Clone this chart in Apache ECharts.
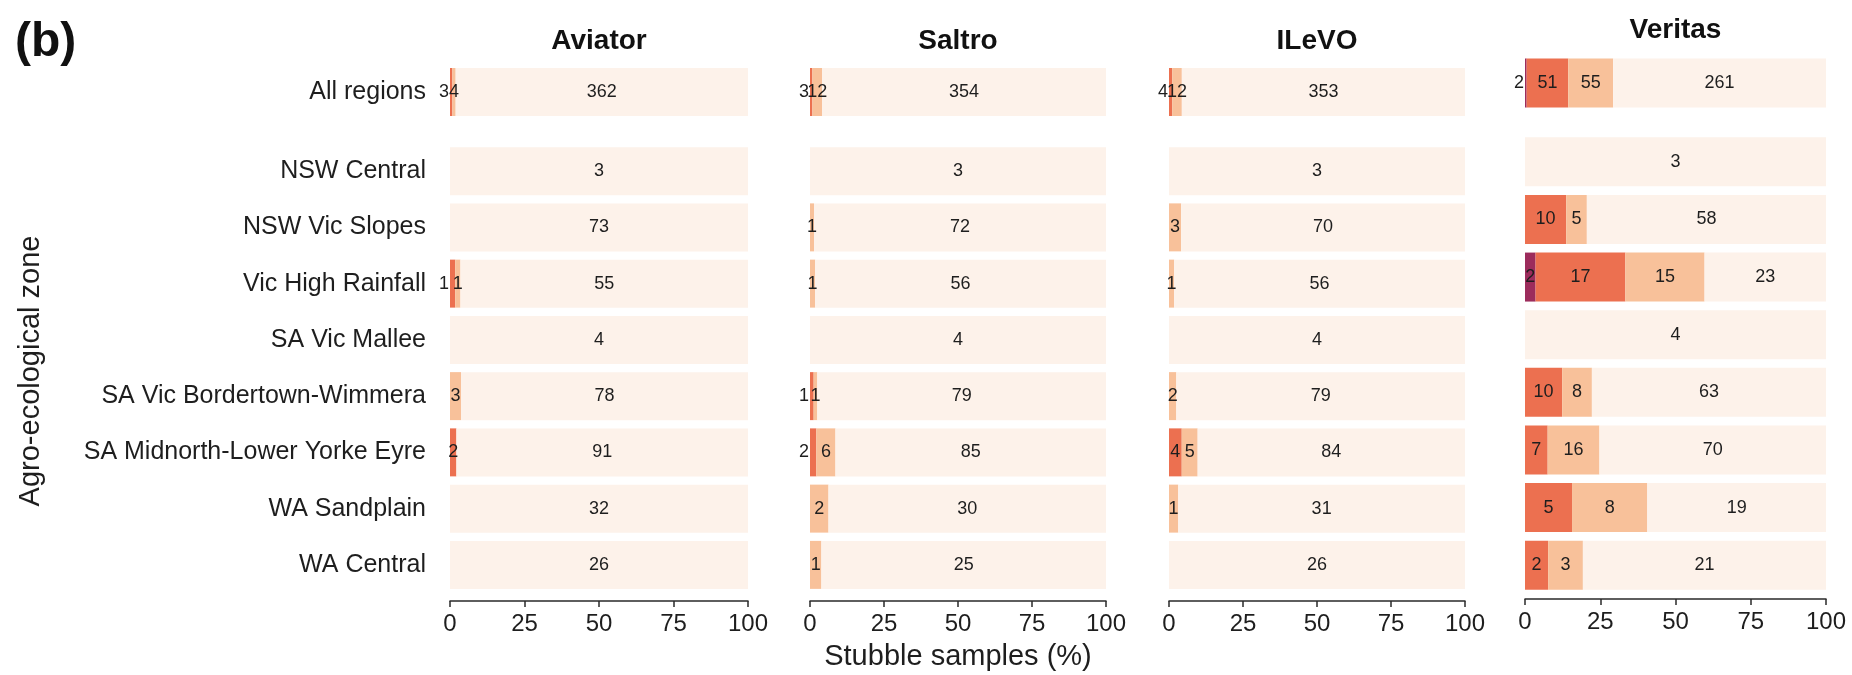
<!DOCTYPE html>
<html>
<head>
<meta charset="utf-8">
<script src="https://cdn.jsdelivr.net/npm/echarts@6/dist/echarts.min.js"></script>
<style>
  html, body { margin: 0; padding: 0; background: #ffffff; }
  #chart { width: 1852px; height: 675px; }
</style>
</head>
<body>
<div id="chart"></div>
<script>
// Zones shown in each panel (top to bottom)
const zones = ['NSW Central', 'NSW Vic Slopes', 'Vic High Rainfall', 'SA Vic Mallee',
  'SA Vic Bordertown-Wimmera', 'SA Midnorth-Lower Yorke Eyre', 'WA Sandplain', 'WA Central'];
const overallRow = ['All regions'];
const products = ['Aviator', 'Saltro', 'ILeVO', 'Veritas'];
const classNames = ['Class 1', 'Class 2', 'Class 3', 'Class 4'];
const xTicks = [0, 25, 50, 75, 100];

// Sample counts per class, one value per zone
const aviatorC1 = [0, 0, 0, 0, 0, 0, 0, 0];
const aviatorC2 = [0, 0, 1, 0, 0, 2, 0, 0];
const aviatorC3 = [0, 0, 1, 0, 3, 0, 0, 0];
const aviatorC4 = [3, 73, 55, 4, 78, 91, 32, 26];
const aviatorAll = [0, 3, 4, 362];

const saltroC1 = [0, 0, 0, 0, 0, 0, 0, 0];
const saltroC2 = [0, 0, 0, 0, 1, 2, 0, 0];
const saltroC3 = [0, 1, 1, 0, 1, 6, 2, 1];
const saltroC4 = [3, 72, 56, 4, 79, 85, 30, 25];
const saltroAll = [0, 3, 12, 354];

const ilevoC1 = [0, 0, 0, 0, 0, 0, 0, 0];
const ilevoC2 = [0, 0, 0, 0, 0, 4, 0, 0];
const ilevoC3 = [0, 3, 1, 0, 2, 5, 1, 0];
const ilevoC4 = [3, 70, 56, 4, 79, 84, 31, 26];
const ilevoAll = [0, 4, 12, 353];

const veritasC1 = [0, 0, 2, 0, 0, 0, 0, 0];
const veritasC2 = [0, 10, 17, 0, 10, 7, 5, 2];
const veritasC3 = [0, 5, 15, 0, 8, 16, 8, 3];
const veritasC4 = [3, 58, 23, 4, 63, 70, 19, 21];
const veritasAll = [2, 51, 55, 261];

const classColors = ['#9c2c5c', '#ec7050', '#f8c19a', '#fdf2ea'];

const panelCounts = [
  { zones: [aviatorC1, aviatorC2, aviatorC3, aviatorC4], all: aviatorAll },
  { zones: [saltroC1, saltroC2, saltroC3, saltroC4], all: saltroAll },
  { zones: [ilevoC1, ilevoC2, ilevoC3, ilevoC4], all: ilevoAll },
  { zones: [veritasC1, veritasC2, veritasC3, veritasC4], all: veritasAll }
];

// Panel geometry (pixels)
const panelLeft = [450, 810, 1169, 1525];
const panelWidth = [298, 296, 296, 301];
const topGrid = [[64, 56], [64, 56], [64, 56], [54, 58]];
const bottomGrid = [[143, 450], [143, 450], [143, 450], [133, 461]];
const axisOffset = [8, 8, 8, 5];
const barW = [48, 48, 48, 49];
const titleY = [41, 41, 41, 30];

const FONT = '"Liberation Sans", Arial, sans-serif';

const grids = [], xAxes = [], yAxes = [], series = [];

// rows: array of count vectors [c1..c4] per row
function addStack(gridIdx, rows, p) {
  const totals = rows.map(r => r.reduce((a, b) => a + b, 0));
  for (let k = 0; k < 4; k++) {
    const data = rows.map((r, i) => {
      const count = r[k];
      const item = { value: count / totals[i] * 100, count: count };
      if (count === 0) {
        item.label = { show: false };
      } else {
        // a very thin leading segment followed by another small one gets its label outside
        const first = r.slice(0, k).every(v => v === 0);
        const nextSmall = k < 3 && r.slice(k + 1, 3).some(v => v > 0);
        if (first && nextSmall && count / totals[i] * 100 < 2.5) {
          item.label = { position: 'left', distance: 1 };
        }
      }
      return item;
    });
    series.push({
      type: 'bar',
      name: classNames[k],
      xAxisIndex: gridIdx,
      yAxisIndex: gridIdx,
      stack: 'g' + gridIdx,
      barWidth: barW[p],
      itemStyle: { color: classColors[k] },
      label: {
        show: true,
        position: 'inside',
        formatter: prm => String(prm.data.count),
        color: '#1e1e1e',
        fontFamily: FONT,
        fontSize: 18
      },
      silent: true,
      animation: false,
      data: data
    });
  }
}

for (let p = 0; p < 4; p++) {
  const pc = panelCounts[p];
  // All regions row
  const gTop = grids.length;
  grids.push({ left: panelLeft[p], width: panelWidth[p], top: topGrid[p][0], height: topGrid[p][1] });
  xAxes.push({ gridIndex: gTop, type: 'value', min: 0, max: 100, show: false });
  yAxes.push({
    gridIndex: gTop, type: 'category', data: overallRow, inverse: true,
    axisLine: { show: false }, axisTick: { show: false },
    axisLabel: { show: p === 0, margin: 24, color: '#1e1e1e', fontSize: 25, fontFamily: FONT }
  });
  addStack(gTop, [pc.all], p);

  // zone rows
  const gBot = grids.length;
  grids.push({ left: panelLeft[p], width: panelWidth[p], top: bottomGrid[p][0], height: bottomGrid[p][1] });
  xAxes.push({
    gridIndex: gBot, type: 'value', min: 0, max: 100, interval: 25,
    offset: axisOffset[p],
    axisLine: { show: true, lineStyle: { color: '#2a2a2a', width: 1.5 } },
    axisTick: { show: true, length: 6, lineStyle: { color: '#2a2a2a', width: 1.5 } },
    axisLabel: {
      margin: 11, color: '#1e1e1e', fontSize: 24, fontFamily: FONT,
      formatter: v => xTicks.includes(v) ? String(v) : ''
    },
    splitLine: { show: false }
  });
  const zoneRows = zones.map((z, i) => pc.zones.map(arr => arr[i]));
  yAxes.push({
    gridIndex: gBot, type: 'category', data: zones, inverse: true,
    axisLine: { show: false }, axisTick: { show: false },
    axisLabel: { show: p === 0, margin: 24, color: '#1e1e1e', fontSize: 25, fontFamily: FONT }
  });
  addStack(gBot, zoneRows, p);
}

const graphics = products.map((name, p) => ({
  type: 'text',
  x: panelLeft[p] + panelWidth[p] / 2,
  y: titleY[p],
  style: {
    text: name, textAlign: 'center', textVerticalAlign: 'middle',
    font: 'bold 28px ' + FONT, fill: '#111'
  }
}));
graphics.push({
  type: 'text', x: 15, y: 43,
  style: { text: '(b)', textAlign: 'left', textVerticalAlign: 'middle', font: 'bold 48px ' + FONT, fill: '#111' }
});
graphics.push({
  type: 'text', x: 958, y: 657,
  style: { text: 'Stubble samples (%)', textAlign: 'center', textVerticalAlign: 'middle', font: '29px ' + FONT, fill: '#1e1e1e' }
});
graphics.push({
  type: 'text', x: 31, y: 371, rotation: Math.PI / 2,
  style: { text: 'Agro-ecological zone', textAlign: 'center', textVerticalAlign: 'middle', font: '29px ' + FONT, fill: '#1e1e1e' }
});

const chart = echarts.init(document.getElementById('chart'), null, { renderer: 'canvas' });
chart.setOption({
  animation: false,
  backgroundColor: '#ffffff',
  grid: grids,
  xAxis: xAxes,
  yAxis: yAxes,
  series: series,
  graphic: graphics
});
</script>
</body>
</html>
